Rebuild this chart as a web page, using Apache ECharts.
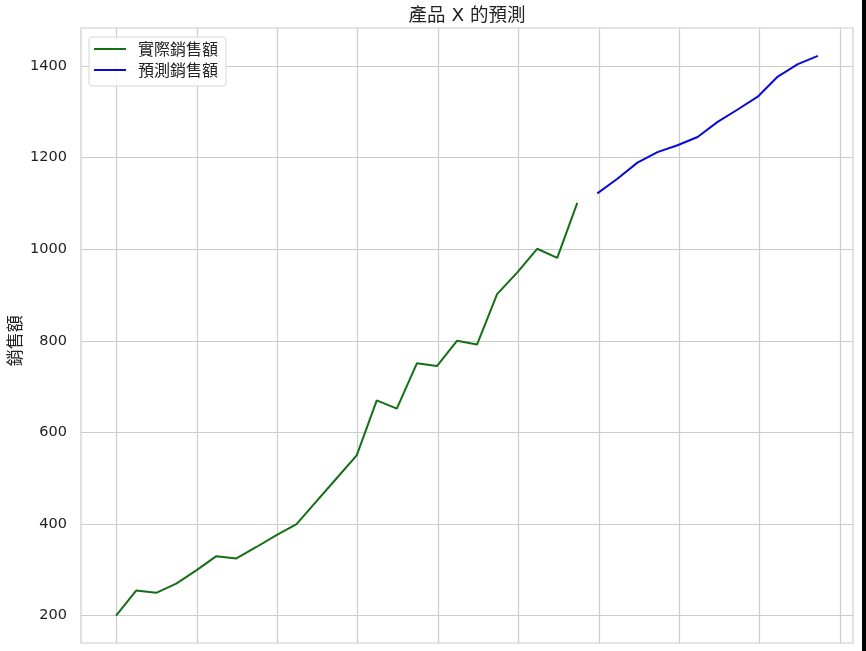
<!DOCTYPE html>
<html>
<head>
<meta charset="utf-8">
<script src="https://cdn.jsdelivr.net/npm/echarts@6/dist/echarts.min.js"></script>
<style>
html,body{margin:0;padding:0;background:#fff;}
#chart{width:866px;height:651px;}
</style>
</head>
<body>
<div id="chart"></div>
<script>
// Data (monthly index, 36 periods)
const actualSales = [200, 255, 250, 270, 299, 330, 325, 350, 376, 400, 450, 500, 550, 670, 652, 751, 745, 800, 792, 902, 949, 1001, 981, 1101];
const forecastSales = [1122, 1154, 1189, 1212, 1227, 1245, 1278, 1305, 1333, 1377, 1404, 1422];
const forecastStart = actualSales.length;
const yTicks = [200, 400, 600, 800, 1000, 1200, 1400];
const seriesNames = ['實際銷售額', '預測銷售額'];
const titleText = '產品 X 的預測';
const yName = '銷售額';

const actualData = actualSales.map((v, i) => [i, v]);
const forecastData = forecastSales.map((v, i) => [forecastStart + i, v]);

const W = 866, H = 651;
const frame = {l: 81, r: 853, t: 28, b: 643};
const xInner = {l: 116.5, r: 840}; // x = 0 .. 36
const yInner = {t: 66, b: 615.7};  // y = 1400 .. 200
const xMin = -1.75, xMax = 36.75;

const gridColor = '#cccccc';
const font = '"DejaVu Sans", "Noto Sans CJK TC", sans-serif';
const cjk = '"Noto Sans CJK TC", "DejaVu Sans", sans-serif';

const chart = echarts.init(document.getElementById('chart'), null, {renderer: 'canvas'});
chart.setOption({
  animation: false,
  backgroundColor: '#ffffff',
  title: {
    text: titleText, left: 462, top: 2, textAlign: 'center',
    textStyle: {fontFamily: font, fontSize: 18.5, fontWeight: 'normal', color: '#222'}
  },
  legend: {
    orient: 'vertical', left: 89, top: 37,
    padding: [4, 8, 8, 5], itemGap: 5,
    itemWidth: 32, itemHeight: 16,
    backgroundColor: 'rgba(255,255,255,0.85)', borderColor: '#d6d6d6', borderWidth: 1, borderRadius: 3,
    textStyle: {fontFamily: cjk, fontSize: 16, color: '#222', padding: [0, 0, 0, 7]},
    data: seriesNames.map(n => ({name: n, icon: 'path://M0,0 L32,0 L32,2 L0,2 Z'}))
  },
  grid: [
    // frame
    {left: frame.l, right: W - frame.r, top: frame.t, bottom: H - frame.b, show: true, borderColor: gridColor, borderWidth: 1.2, backgroundColor: 'transparent', containLabel: false, outerBoundsMode: 'none'},
    // horizontal grid + series
    {left: frame.l, right: W - frame.r, top: yInner.t, bottom: H - yInner.b, show: false, containLabel: false, outerBoundsMode: 'none'},
    // vertical grid
    {left: xInner.l, right: W - xInner.r, top: frame.t, bottom: H - frame.b, show: false, containLabel: false, outerBoundsMode: 'none'}
  ],
  xAxis: [
    {gridIndex: 0, type: 'value', min: 0, max: 1, show: false},
    {gridIndex: 1, type: 'value', min: xMin, max: xMax, show: false},
    {gridIndex: 2, type: 'value', min: 0, max: 36, interval: 4,
      axisLine: {show: false}, axisTick: {show: false}, axisLabel: {show: false},
      splitLine: {show: true, lineStyle: {color: gridColor, width: 1.2}}}
  ],
  yAxis: [
    {gridIndex: 0, type: 'value', min: 0, max: 1, show: false},
    {gridIndex: 1, type: 'value', min: yTicks[0], max: yTicks[yTicks.length - 1], interval: 200,
      name: yName, nameLocation: 'middle', nameGap: 58, nameMoveOverlap: false,
      nameTextStyle: {fontFamily: cjk, fontSize: 17, color: '#222'},
      axisLine: {show: false}, axisTick: {show: false},
      axisLabel: {fontFamily: font, fontSize: 14.5, color: '#222', margin: 14, formatter: v => String(v)},
      splitLine: {show: true, lineStyle: {color: gridColor, width: 1.2}}},
    {gridIndex: 2, type: 'value', min: 0, max: 1, show: false}
  ],
  series: [
    {name: seriesNames[0], type: 'line', xAxisIndex: 1, yAxisIndex: 1, data: actualData,
      symbol: 'none', clip: false, color: '#157015', lineStyle: {color: '#157015', width: 2}},
    {name: seriesNames[1], type: 'line', xAxisIndex: 1, yAxisIndex: 1, data: forecastData,
      symbol: 'none', clip: false, color: '#0a0ad6', lineStyle: {color: '#0a0ad6', width: 2}}
  ],
  graphic: [
    {type: 'rect', shape: {x: 862, y: 0, width: 4, height: H}, style: {fill: '#000'}, silent: true}
  ]
});
</script>
</body>
</html>
